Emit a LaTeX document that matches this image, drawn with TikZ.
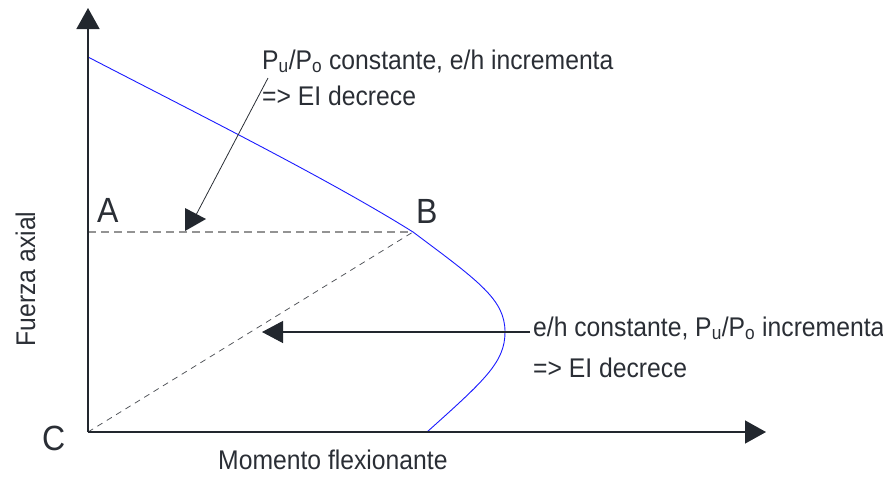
\documentclass[tikz,border=0pt]{standalone}
\usepackage{fontspec}
\setmainfont[FakeStretch=0.915]{Liberation Sans}
\usetikzlibrary{arrows.meta}
\definecolor{ink}{HTML}{2A2E35}
\definecolor{tipc}{HTML}{22272E}
\definecolor{curveblue}{HTML}{1A1AFF}
\tikzset{
  axisline/.style={draw=ink, line width=1.4pt},
  bigtip/.style={-{Triangle[length=21pt,width=23pt]}, tipc},
  lbl/.style={text=ink, font=\fontsize{27}{27}\selectfont, inner sep=0pt, anchor=base west},
  ptlbl/.style={text=ink, font=\fontsize{35}{35}\selectfont, inner sep=0pt, anchor=base west},
  dashAB/.style={draw=gray!85, line width=1.3pt, dash pattern=on 8pt off 5pt},
  dashCB/.style={draw=ink!80, line width=0.8pt, dash pattern=on 6pt off 5pt},
  leader/.style={draw=ink, line width=0.8pt},
}
\begin{document}
\begin{tikzpicture}[x=1pt,y=-1pt]
\useasboundingbox (0,0) rectangle (883,493);
% points
\coordinate (O) at (88,432);
\coordinate (Ytop) at (88,8);
\coordinate (Xend) at (766,432);
\coordinate (Ap) at (88,232);
\coordinate (Bp) at (413,232);
% dashed lines
\draw[dashAB] (Ap) -- (Bp);
\draw[dashCB] (O) -- (Bp);
% curve
\draw[curveblue, line width=0.9pt] (88,57) .. controls (200,115) and (330,180) .. (Bp)
  .. controls (480,282) and (505,300) .. (505,332)
  .. controls (505,362) and (485,380) .. (427,432);
% axes
\draw[axisline, bigtip] (O) -- (Ytop);
\draw[axisline, bigtip] (O) -- (Xend);
% labels
\node[ptlbl] (A) at (97,222) {A};
\node[ptlbl] (B) at (416,223) {B};
\node[ptlbl] (C) at (42,450) {C};
\node[lbl] (xl) at (218,469) {Momento flexionante};
\node[lbl, anchor=base, rotate=90] (yl) at (35,279) {Fuerza axial};
% annotation 1
\node[lbl] (t1) at (262,69) {P\textsubscript{u}/P\textsubscript{o} constante, e/h incrementa};
\node[lbl] (t1b) at (262,105) {=> EI decrece};
\coordinate (L1s) at (268,78);
\coordinate (L1e) at (196,215);
\draw[leader] (L1s) -- (L1e);
\fill[tipc] (185,208) -- (185,231) -- (206,219) -- cycle;
% annotation 2
\node[lbl] (t2) at (533,336) {e/h constante, P\textsubscript{u}/P\textsubscript{o} incrementa};
\node[lbl] (t2b) at (533,377) {=> EI decrece};
\coordinate (L2s) at (530,332);
\coordinate (L2e) at (262,332);
\draw[leader, line width=1.2pt, -{Triangle[length=21pt,width=22pt]}, tipc] (L2s) -- (L2e);
\end{tikzpicture}
\end{document}
